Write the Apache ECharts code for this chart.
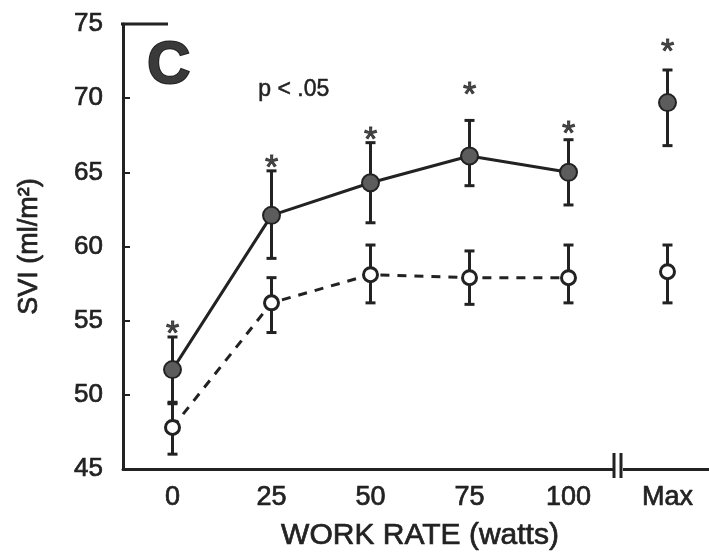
<!DOCTYPE html>
<html>
<head>
<meta charset="utf-8">
<script src="https://cdn.jsdelivr.net/npm/echarts@6/dist/echarts.min.js"></script>
<style>
html,body{margin:0;padding:0;background:#fff;}
#chart{width:709px;height:555px;}
</style>
</head>
<body>
<div id="chart"></div>
<script>
// ---- data ----
const categories = ['0', '25', '50', '75', '100', 'Max'];
const yTicks = [45, 50, 55, 60, 65, 70, 75];

// solid line, filled circles
const exMean = [51.7, 62.1, 64.3, 66.1, 65.0, 69.7];
const exLow  = [49.5, 59.2, 61.6, 64.1, 62.8, 66.8];
const exHigh = [53.9, 65.1, 67.0, 68.5, 67.2, 71.9];

// dashed line, open circles
const ctMean = [47.8, 56.2, 58.1, 57.9, 57.9, 58.3];
const ctLow  = [46.0, 54.2, 56.2, 56.1, 56.2, 56.2];
const ctHigh = [49.4, 57.9, 60.1, 59.7, 60.1, 60.1];

// asterisks (significance marks) position
const starY = [54.6, 65.8, 67.7, 70.7, 68.1, 73.6];

const xTitle = 'WORK RATE (watts)';
const yTitle = 'SVI (ml/m²)';
const panelLabel = 'C';
const pText = 'p < .05';

// ---- chart ----
const INK = '#222';
const FONT = '"Liberation Sans", Arial, Helvetica, sans-serif';
const chart = echarts.init(document.getElementById('chart'));
const thick = { textBorderColor: INK, textBorderWidth: 0.7 };

function lineData(arr) {
  return arr.map((v, i) => categories[i] === 'Max' ? '-' : v);
}
function errData(lo, hi) {
  return lo.map((v, i) => [i, v, hi[i]]);
}
function errRender(params, api) {
  const x = api.value(0);
  const pLo = api.coord([x, api.value(1)]);
  const pHi = api.coord([x, api.value(2)]);
  const cap = 5;
  const style = { stroke: INK, lineWidth: 3 };
  return {
    type: 'group',
    children: [
      { type: 'line', shape: { x1: pLo[0], y1: pLo[1], x2: pHi[0], y2: pHi[1] }, style },
      { type: 'line', shape: { x1: pLo[0] - cap, y1: pLo[1], x2: pLo[0] + cap, y2: pLo[1] }, style },
      { type: 'line', shape: { x1: pHi[0] - cap, y1: pHi[1], x2: pHi[0] + cap, y2: pHi[1] }, style }
    ]
  };
}

const option = {
  backgroundColor: '#fff',
  animation: false,
  textStyle: { fontFamily: FONT, color: INK },
  grid: { left: 123, top: 24, width: 594, height: 445, outerBoundsMode: 'none', containLabel: false },
  xAxis: {
    type: 'category',
    data: categories,
    boundaryGap: true,
    name: xTitle,
    nameLocation: 'middle',
    nameGap: 52,
    nameTextStyle: Object.assign({ fontSize: 30, color: INK, fontFamily: FONT }, thick),
    axisLine: { lineStyle: { color: INK, width: 3 } },
    axisTick: { inside: true, length: 9, alignWithLabel: true, lineStyle: { color: INK, width: 2 } },
    axisLabel: Object.assign({ fontSize: 27, color: INK, margin: 15, fontFamily: FONT }, thick),
    splitLine: { show: false }
  },
  yAxis: {
    type: 'value',
    min: 45, max: 75, interval: 5,
    name: yTitle,
    nameLocation: 'middle',
    nameRotate: 90,
    nameGap: 80,
    nameTextStyle: Object.assign({ fontSize: 27, color: INK, fontFamily: FONT }, thick),
    axisLine: { show: true, lineStyle: { color: INK, width: 3 } },
    axisTick: { show: true, inside: true, length: 7, lineStyle: { color: INK, width: 2 } },
    axisLabel: Object.assign({ fontSize: 26, color: INK, margin: 20, fontFamily: FONT,
      formatter: v => yTicks.includes(v) ? String(v) : '' }, thick),
    splitLine: { show: false }
  },
  series: [
    {
      type: 'line', data: lineData(exMean), symbol: 'none', z: 2,
      lineStyle: { color: INK, width: 3 }
    },
    {
      type: 'line', data: lineData(ctMean), symbol: 'none', z: 2,
      lineStyle: { color: INK, width: 3, type: [9, 8] }
    },
    {
      type: 'custom', renderItem: errRender, data: errData(exLow, exHigh), z: 3,
      encode: { x: 0, y: [1, 2] }
    },
    {
      type: 'custom', renderItem: errRender, data: errData(ctLow, ctHigh), z: 3,
      encode: { x: 0, y: [1, 2] }
    },
    {
      type: 'scatter', data: exMean, symbol: 'circle', symbolSize: 17, z: 4,
      itemStyle: { color: '#5c5c5c', borderColor: INK, borderWidth: 2, opacity: 1 }
    },
    {
      type: 'scatter', data: ctMean, symbol: 'circle', symbolSize: 14, z: 4,
      itemStyle: { color: '#fff', borderColor: INK, borderWidth: 3, opacity: 1 }
    },
    {
      type: 'scatter', data: starY, symbolSize: 0, z: 5, silent: true,
      label: Object.assign({ show: true, position: 'inside', formatter: '*', fontSize: 34,
        color: INK, fontFamily: FONT, offset: [0, 8] }, { textBorderColor: INK, textBorderWidth: 1 })
    }
  ],
  graphic: [
    { type: 'line', shape: { x1: 121, y1: 24, x2: 168, y2: 24 }, style: { stroke: INK, lineWidth: 3 } },
    { type: 'rect', shape: { x: 613, y: 462, width: 10, height: 12 }, style: { fill: '#fff' }, z: 100 },
    { type: 'line', shape: { x1: 614, y1: 453, x2: 614, y2: 478 }, style: { stroke: INK, lineWidth: 3 }, z: 101 },
    { type: 'line', shape: { x1: 621, y1: 453, x2: 621, y2: 478 }, style: { stroke: INK, lineWidth: 3 }, z: 101 },
    { type: 'text', left: 146, top: 35, style: { text: panelLabel, font: 'bold 60px ' + FONT, fill: '#3a3a3a', stroke: INK, lineWidth: 2 } },
    { type: 'text', left: 258, top: 78, style: { text: pText, font: '23px ' + FONT, fill: INK, stroke: INK, lineWidth: 0.5 } }
  ]
};
chart.setOption(option);
</script>
</body>
</html>
